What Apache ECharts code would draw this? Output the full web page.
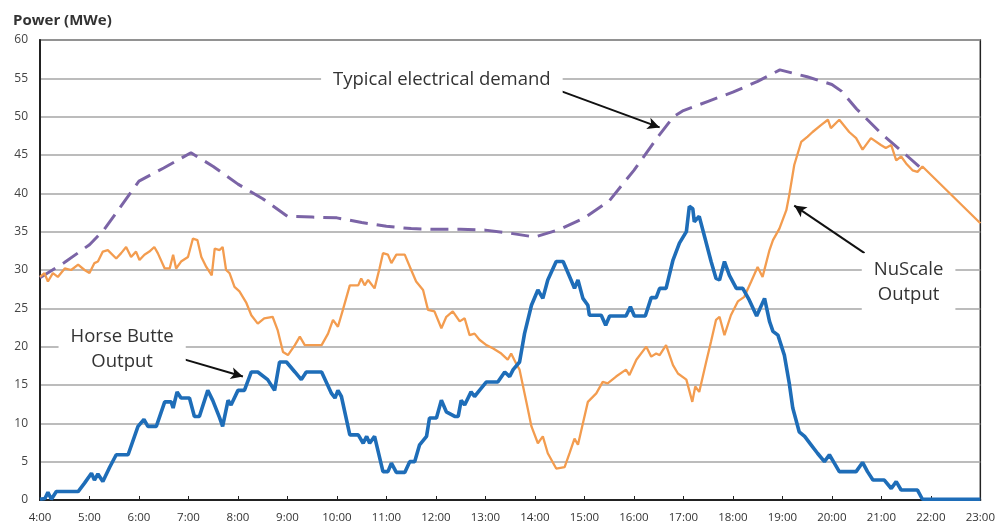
<!DOCTYPE html>
<html><head><meta charset="utf-8">
<script src="https://cdn.jsdelivr.net/npm/echarts@6/dist/echarts.min.js"></script>
<style>html,body{margin:0;padding:0;background:#fff}#c{width:998px;height:527px}</style>
</head><body><div id="c"></div>
<script>
// ---- data (hours of day, MWe) ----
const hbTime = [4.00,4.10,4.16,4.23,4.33,4.77,4.90,5.04,5.10,5.17,5.27,5.41,5.54,5.78,5.98,6.10,6.18,6.35,6.52,6.65,6.69,6.77,6.85,7.02,7.12,7.22,7.39,7.49,7.63,7.69,7.80,7.86,8.00,8.13,8.27,8.40,8.60,8.74,8.84,8.98,9.15,9.28,9.38,9.69,9.89,9.96,10.02,10.09,10.26,10.43,10.53,10.60,10.66,10.76,10.93,11.03,11.10,11.20,11.37,11.47,11.57,11.67,11.81,11.87,12.01,12.11,12.21,12.38,12.45,12.51,12.58,12.71,12.78,12.88,13.02,13.25,13.39,13.49,13.56,13.69,13.79,13.93,14.06,14.16,14.26,14.43,14.57,14.73,14.80,14.87,14.97,15.07,15.10,15.34,15.43,15.51,15.84,15.93,16.01,16.23,16.35,16.45,16.52,16.65,16.79,16.92,17.06,17.12,17.19,17.22,17.32,17.43,17.56,17.66,17.73,17.83,17.93,18.07,18.20,18.33,18.48,18.64,18.74,18.81,18.91,19.04,19.14,19.21,19.34,19.45,19.58,19.71,19.85,19.95,20.05,20.15,20.49,20.62,20.72,20.83,21.06,21.20,21.30,21.40,21.73,21.83,23.00];
const hbValue = [0.1,0.2,1.0,0.1,1.1,1.1,2.2,3.5,2.6,3.4,2.4,4.3,5.9,5.9,9.6,10.5,9.6,9.6,12.8,12.8,12.0,14.1,13.3,13.3,10.9,10.9,14.3,13.0,10.7,9.6,13.0,12.4,14.3,14.3,16.7,16.7,15.7,14.3,18.0,18.0,16.7,15.7,16.7,16.7,13.9,13.3,14.3,13.5,8.5,8.5,7.4,8.3,7.4,8.3,3.7,3.7,4.8,3.6,3.6,5.0,5.0,7.2,8.3,10.7,10.7,13.0,11.5,10.9,10.9,13.0,12.4,14.1,13.5,14.3,15.4,15.4,16.7,16.1,17.0,18.0,21.7,25.4,27.4,26.3,28.7,31.1,31.1,28.7,27.6,28.7,26.3,25.4,24.1,24.1,22.8,24.0,24.0,25.2,24.0,24.0,26.4,26.4,27.6,27.6,31.3,33.5,35.0,38.3,38.0,36.3,37.0,34.3,31.1,28.9,28.7,31.1,29.3,27.6,27.6,26.1,24.0,26.3,23.3,22.0,21.5,18.9,15.2,12.0,8.9,8.3,7.2,6.1,5.0,5.9,4.8,3.7,3.7,4.9,3.7,2.6,2.6,1.5,2.4,1.3,1.3,0.1,0.1];

const nsTime = [4.00,4.09,4.16,4.26,4.36,4.50,4.63,4.77,4.90,5.00,5.10,5.17,5.27,5.37,5.54,5.64,5.74,5.84,5.94,6.01,6.11,6.21,6.31,6.38,6.52,6.62,6.69,6.75,6.85,6.99,7.09,7.18,7.26,7.36,7.47,7.53,7.63,7.69,7.76,7.83,7.93,8.03,8.17,8.27,8.40,8.53,8.70,8.80,8.91,9.01,9.15,9.25,9.35,9.69,9.82,9.92,10.02,10.12,10.26,10.43,10.49,10.56,10.63,10.76,10.86,10.93,11.03,11.10,11.20,11.37,11.50,11.60,11.74,11.84,11.97,12.11,12.21,12.34,12.48,12.58,12.68,12.78,12.88,13.02,13.15,13.32,13.45,13.52,13.62,13.69,13.82,13.93,14.06,14.16,14.26,14.43,14.60,14.70,14.80,14.87,14.97,15.07,15.24,15.37,15.47,15.64,15.84,15.91,16.05,16.25,16.35,16.45,16.52,16.65,16.79,16.89,17.06,17.18,17.24,17.32,17.46,17.56,17.66,17.73,17.83,17.96,18.10,18.23,18.37,18.50,18.60,18.74,18.81,18.94,19.08,19.14,19.24,19.38,19.51,19.61,19.78,19.92,19.98,20.15,20.35,20.49,20.62,20.79,20.99,21.09,21.20,21.30,21.40,21.50,21.63,21.73,21.83,23.00];
const nsValue = [29.1,29.6,28.5,29.6,29.1,30.2,30.0,30.7,30.0,29.6,30.9,31.1,32.4,32.6,31.5,32.2,33.0,31.7,32.4,31.3,32.0,32.4,33.0,32.2,30.2,30.2,32.0,30.2,31.1,31.7,34.1,33.9,31.7,30.4,29.3,32.8,32.6,33.0,30.0,29.6,27.8,27.2,25.7,24.1,23.0,23.7,23.9,22.2,19.3,18.9,20.2,21.3,20.2,20.2,21.7,23.5,22.6,24.8,28.0,28.0,28.9,28.0,28.7,27.6,30.2,32.2,32.0,30.9,32.0,32.0,30.0,28.5,27.4,24.8,24.6,22.4,23.9,24.6,23.3,23.7,21.5,21.7,20.9,20.2,19.8,19.1,18.3,19.1,17.8,17.0,13.0,9.6,7.4,8.3,6.1,4.1,4.3,6.1,8.0,7.2,10.0,12.8,13.9,15.4,15.2,16.1,17.0,16.3,18.3,20.0,18.7,19.1,18.9,20.2,17.6,16.5,15.7,12.8,14.8,14.1,18.0,20.7,23.5,23.9,21.5,24.1,25.9,26.5,28.5,30.4,29.1,32.6,33.9,35.4,37.8,39.8,43.7,46.7,47.4,48.0,48.9,49.6,48.5,49.6,48.0,47.2,45.7,47.2,46.3,45.9,46.3,44.3,44.8,43.9,43.0,42.8,43.5,36.1];

const dmTime = [4.0,4.5,5.0,5.3,6.0,6.5,7.05,7.5,8.0,8.5,9.0,9.5,10.0,10.5,11.0,11.5,12.0,12.5,13.0,13.5,14.0,14.5,15.0,15.5,16.0,16.5,16.8,17.0,17.5,18.0,18.5,18.95,19.5,20.0,20.2,20.5,21.0,21.5,21.85];
const dmValue = [29.0,31.0,33.3,35.3,41.6,43.3,45.3,43.5,41.2,39.3,37.0,36.9,36.8,36.2,35.7,35.4,35.3,35.3,35.2,34.8,34.3,35.3,36.8,39.0,43.0,47.5,50.0,50.8,52.0,53.2,54.6,56.1,55.2,54.2,53.3,51.0,47.8,45.0,43.0];

const xTickHours = [4,23];      // axis range (hours)
const yRange = [0,60];          // axis range (MWe)

const noteText = ['Typical electrical demand','Horse Butte\nOutput','NuScale\nOutput'];
const noteAt = [[12.12,54.8],[5.66,19.7],[21.55,28.4]];
const arrowFrom = [[14.54,53.3],[6.62,18.9],[20.66,32.2]];
const arrowTo = [[16.52,48.6],[8.10,16.1],[19.24,38.4]];

// ---- chart ----
const zip = (t, v) => t.map((x, i) => [x, v[i]]);
const font = '"Open Sans", Lato, sans-serif';
const chart = echarts.init(document.getElementById('c'), null, {renderer: 'canvas'});
chart.setOption({
  animation: false,
  backgroundColor: '#fff',
  title: {text: 'Power (MWe)', left: 8, top: 8,
    textStyle: {fontFamily: font, fontSize: 15, fontWeight: 'bold', color: '#333'}},
  grid: {left: 40, right: 17, top: 40, bottom: 27, show: true, borderColor: '#222', borderWidth: 1.5, backgroundColor: 'transparent'},
  xAxis: {type: 'value', min: xTickHours[0], max: xTickHours[1], interval: 1,
    axisLine: {lineStyle: {color: '#222', width: 2}},
    axisTick: {inside: true, length: 4, lineStyle: {color: '#222'}},
    splitLine: {show: false},
    axisLabel: {formatter: v => v + ':00', fontFamily: font, fontSize: 11.5, color: '#333', margin: 12}},
  yAxis: {type: 'value', min: yRange[0], max: yRange[1], interval: 5,
    axisLine: {show: true, lineStyle: {color: '#222', width: 2}},
    axisTick: {show: false},
    splitLine: {lineStyle: {color: '#a6a6a6', width: 1.5}},
    axisLabel: {fontFamily: font, fontSize: 12, color: '#444', margin: 12}},
  series: [
    {name: 'Typical electrical demand', type: 'line', data: zip(dmTime, dmValue), showSymbol: false, smooth: false,
      lineStyle: {color: '#7b64a6', width: 3, type: [18, 9]}, z: 2},
    {name: 'NuScale Output', type: 'line', data: zip(nsTime, nsValue), showSymbol: false,
      lineStyle: {color: '#f39c4f', width: 2.3}, z: 3},
    {name: 'Horse Butte Output', type: 'line', data: zip(hbTime, hbValue), showSymbol: false,
      lineStyle: {color: '#1e6db8', width: 3.6}, z: 4},
    {name: 'notes', type: 'line', data: [], z: 6,
      markPoint: {symbol: 'rect', symbolSize: 1, itemStyle: {color: 'rgba(0,0,0,0)'}, silent: true,
        label: {show: true, position: 'inside', formatter: p => p.name, fontFamily: font, fontSize: 18.5,
          color: '#333', lineHeight: 25, backgroundColor: '#fff', padding: [4, 12]},
        data: noteText.map((t, i) => ({name: t, coord: noteAt[i]}))},
      markLine: {silent: true, symbol: ['none', 'arrow'], symbolSize: [9, 12],
        lineStyle: {color: '#111', width: 2, type: 'solid'}, label: {show: false},
        data: arrowFrom.map((f, i) => [{coord: f}, {coord: arrowTo[i]}])}}
  ]
});
</script></body></html>
